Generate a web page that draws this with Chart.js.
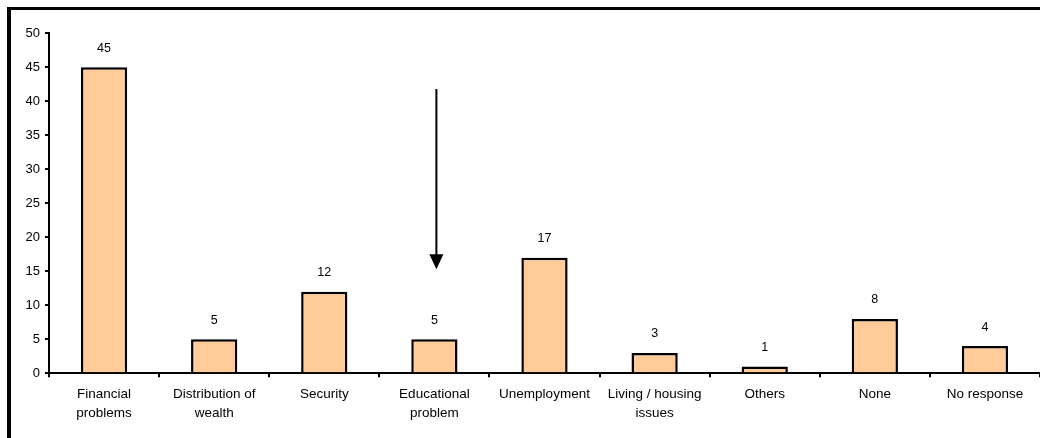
<!DOCTYPE html>
<html lang="en">
<head>
    <meta charset="UTF-8">
    <title>Problems</title>
    <style>
        html, body { margin: 0; padding: 0; background: #fff; }
        canvas { display: block; }
    </style>
</head>
<body>
    <canvas id="chart" width="1040" height="438"></canvas>
    <script src="https://cdn.jsdelivr.net/npm/chart.js@4/dist/chart.umd.min.js"></script>
    <script>
        // chart data
        const categories = [
            ['Financial', 'problems'],
            ['Distribution of', 'wealth'],
            'Security',
            ['Educational', 'problem'],
            'Unemployment',
            ['Living / housing', 'issues'],
            'Others',
            'None',
            'No response'
        ]
        const values = [45, 5, 12, 5, 17, 3, 1, 8, 4]
        const yMin = 0
        const yMax = 50
        const yStep = 5
        // arrow pointing down onto the "Educational problem" bar
        const arrowCategory = 3
        const arrowFrom = 41.8
        const arrowTo = 15.3

        const fontFamily = '"Liberation Sans", Arial, sans-serif'

        const framePlugin = {
            id: 'frame',
            beforeDraw(chart){
                const ctx = chart.ctx
                ctx.save()
                ctx.fillStyle = '#000'
                ctx.fillRect(7, 7, chart.width - 7, 3)
                ctx.fillRect(7, 7, 4, chart.height - 7)
                ctx.restore()
            }
        }

        const valueLabels = {
            id: 'valueLabels',
            afterDatasetsDraw(chart){
                const ctx = chart.ctx
                const meta = chart.getDatasetMeta(0)
                ctx.save()
                ctx.font = '12.5px ' + fontFamily
                ctx.fillStyle = '#000'
                ctx.textAlign = 'center'
                ctx.textBaseline = 'middle'
                meta.data.forEach((bar, i) => {
                    ctx.fillText(String(values[i]), bar.x, bar.y - 19)
                })
                ctx.restore()
            }
        }

        const arrowPlugin = {
            id: 'arrow',
            afterDraw(chart){
                const ctx = chart.ctx
                const x = chart.scales.x.getPixelForValue(arrowCategory) + 2
                const y1 = chart.scales.y.getPixelForValue(arrowFrom)
                const y2 = chart.scales.y.getPixelForValue(arrowTo)
                ctx.save()
                ctx.strokeStyle = '#000'
                ctx.fillStyle = '#000'
                ctx.lineWidth = 2
                ctx.beginPath()
                ctx.moveTo(x, y1)
                ctx.lineTo(x, y2 - 12)
                ctx.stroke()
                ctx.beginPath()
                ctx.moveTo(x - 7, y2 - 15)
                ctx.lineTo(x + 7, y2 - 15)
                ctx.lineTo(x, y2)
                ctx.closePath()
                ctx.fill()
                ctx.restore()
            }
        }

        new Chart(document.getElementById('chart'), {
            type: 'bar',
            data: {
                labels: categories,
                datasets: [{
                    data: values,
                    backgroundColor: '#ffcc99',
                    borderColor: '#000',
                    borderWidth: 2.5,
                    categoryPercentage: 1,
                    barPercentage: 0.42
                }]
            },
            options: {
                responsive: false,
                animation: false,
                layout: {
                    padding: { left: 12, top: 33.3, right: 0, bottom: 0 }
                },
                plugins: {
                    legend: { display: false },
                    tooltip: { enabled: false }
                },
                scales: {
                    x: {
                        afterFit(scale){ scale.height = 64.7 },
                        border: { color: '#000', width: 2 },
                        grid: {
                            drawOnChartArea: false,
                            color: '#000',
                            lineWidth: 2,
                            tickLength: 4
                        },
                        ticks: {
                            color: '#000',
                            padding: 8,
                            maxRotation: 0,
                            autoSkip: false,
                            font: { family: fontFamily, size: 13.5, lineHeight: 1.4 }
                        }
                    },
                    y: {
                        min: yMin,
                        max: yMax,
                        afterFit(scale){ scale.width = 37 },
                        border: { color: '#000', width: 2 },
                        grid: {
                            drawOnChartArea: false,
                            color: '#000',
                            lineWidth: 2,
                            tickLength: 4
                        },
                        ticks: {
                            stepSize: yStep,
                            color: '#000',
                            padding: 5,
                            font: { family: fontFamily, size: 13 }
                        }
                    }
                }
            },
            plugins: [framePlugin, valueLabels, arrowPlugin]
        })
    </script>
</body>
</html>
